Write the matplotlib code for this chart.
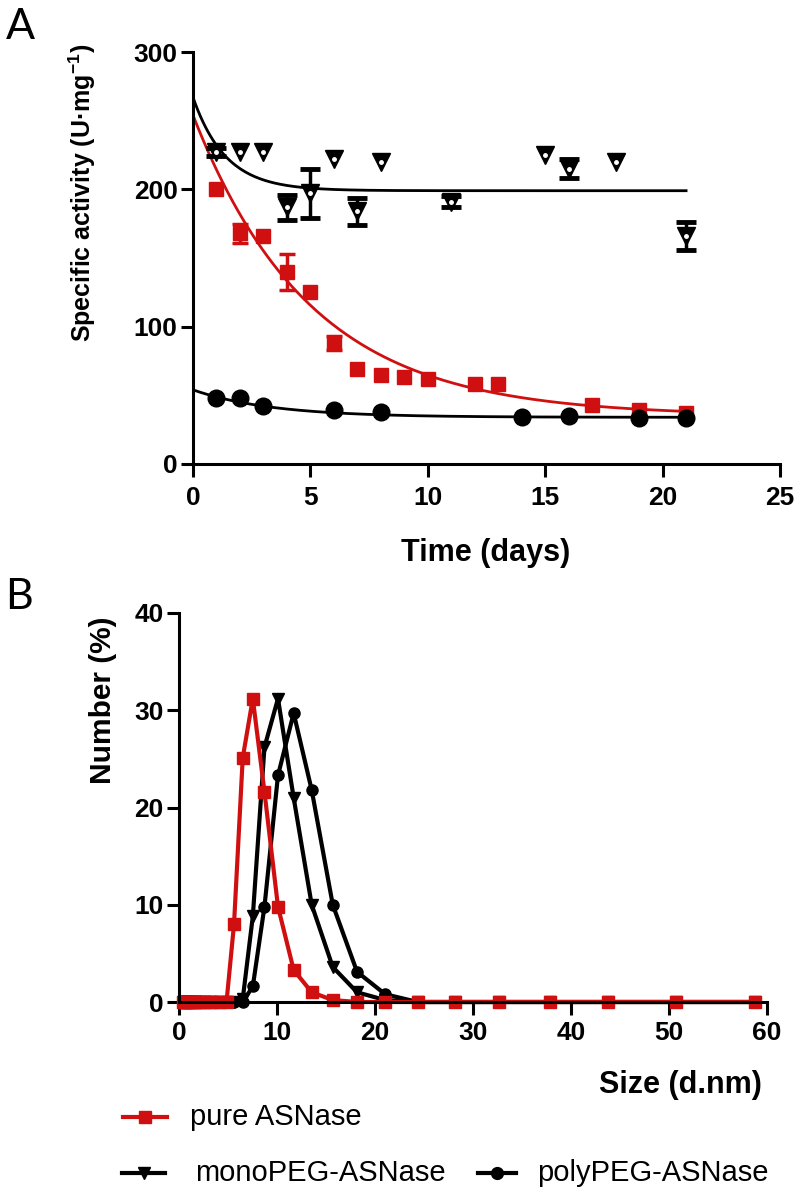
import numpy as np
import matplotlib
matplotlib.use("Agg")
import matplotlib.pyplot as plt
from matplotlib.lines import Line2D

plt.rcParams['font.family'] = ['Liberation Sans', 'DejaVu Sans']
plt.rcParams['mathtext.fontset'] = 'custom'
plt.rcParams['mathtext.rm'] = 'Liberation Sans'
plt.rcParams['mathtext.bf'] = 'Liberation Sans:bold'

RED = '#d01010'

# ---- panel A: specific activity over time ----
days_mono = [1, 2, 3, 4, 5, 6, 7, 8, 11, 15, 16, 18, 21]
act_mono = [227, 227, 227, 187, 197, 222, 184, 220, 191, 225, 215, 220, 166]
err_mono = [3, 0, 0, 9, 18, 0, 10, 0, 4, 0, 7, 0, 10]

days_pure = [1, 2, 3, 4, 5, 6, 7, 8, 9, 10, 12, 13, 17, 19, 21]
act_pure = [200, 168, 166, 140, 125, 88, 69, 65, 63, 62, 58, 58, 43, 39, 37]
err_pure = [0, 7, 0, 13, 0, 5, 0, 0, 0, 0, 0, 0, 0, 0, 0]

days_poly = [1, 2, 3, 6, 8, 14, 16, 19, 21]
act_poly = [48, 48, 42, 39, 38, 34, 35, 33.5, 33.5]

# one-phase decay fits: (Y0, plateau, k)
fit_mono = (267, 199, 0.72)
fit_pure = (254, 35, 0.20)
fit_poly = (54, 34, 0.30)

# ---- panel B: DLS size distribution ----
size_bins = [0.4, 0.4632, 0.5365, 0.6213, 0.7195, 0.8332, 0.9649, 1.117, 1.294,
             1.499, 1.736, 2.01, 2.328, 2.696, 3.122, 3.615, 4.187, 4.849, 5.615,
             6.503, 7.531, 8.721, 10.1, 11.7, 13.54, 15.69, 18.17, 21.04, 24.36,
             28.21, 32.67, 37.84, 43.82, 50.75, 58.77]
num_pure = [0] * 18 + [8.0, 25.1, 31.2, 21.6, 9.8, 3.3, 1.0, 0.2] + [0] * 9
num_mono = [0] * 19 + [0.3, 8.8, 26.2, 31.2, 21.0, 10.0, 3.6, 1.0, 0.2] + [0] * 7
num_poly = [0] * 20 + [1.6, 9.8, 23.3, 29.7, 21.8, 10.0, 3.1, 0.8] + [0] * 7

legend_labels = ['pure ASNase', 'monoPEG-ASNase', 'polyPEG-ASNase']


def decay(t, p):
    y0, plateau, k = p
    return plateau + (y0 - plateau) * np.exp(-k * t)


def with_err(x, y, e):
    # keep only points that carry a visible error bar
    keep = [i for i in range(len(e)) if e[i] > 0]
    return [x[i] for i in keep], [y[i] for i in keep], [e[i] for i in keep]


def style_axis(ax):
    for s in ['top', 'right']:
        ax.spines[s].set_visible(False)
    for s in ['left', 'bottom']:
        ax.spines[s].set_linewidth(2.2)
    ax.tick_params(direction='out', length=9, width=2.2, labelsize=19)
    ax.tick_params(axis='y', pad=2)
    for lab in ax.get_xticklabels() + ax.get_yticklabels():
        lab.set_fontweight('bold')


W, H = 800, 1195
fig = plt.figure(figsize=(W / 100, H / 100), dpi=100)

axA = fig.add_axes([193 / W, 1 - 464 / H, 587 / W, 412 / H])
t = np.linspace(0, 21, 200)
axA.plot(t, decay(t, fit_pure), color=RED, lw=2)
axA.errorbar(*with_err(days_pure, act_pure, err_pure), fmt='none', ecolor=RED,
             elinewidth=2.5, capsize=6, capthick=2.5)
axA.plot(days_pure, act_pure, 's', color=RED, ms=9.5, mec=RED)
axA.plot(t, decay(t, fit_mono), color='black', lw=2)
axA.plot(t, decay(t, fit_poly), color='black', lw=2)
axA.errorbar(*with_err(days_mono, act_mono, err_mono), fmt='none', ecolor='black',
             elinewidth=2.5, capsize=7, capthick=3.5)
axA.plot(days_mono, act_mono, 'v', color='black', ms=12.5)
axA.plot(days_mono, act_mono, 'o', color='white', ms=2.5)
axA.plot(days_poly, act_poly, 'o', color='black', ms=12, clip_on=False)
axA.set_xlim(0, 25)
axA.set_ylim(0, 300)
axA.set_xticks([0, 5, 10, 15, 20, 25])
axA.set_yticks([0, 100, 200, 300])
style_axis(axA)
axA.tick_params(axis='x', pad=7)
fig.text(82 / W, 1 - 193 / H, 'Specific activity (U·mg$^{\\mathbf{-1}}$)',
         rotation=90, ha='center', va='center', fontsize=18, fontweight='bold')
fig.text(486 / W, 1 - 553 / H, 'Time (days)', ha='center', va='center',
         fontsize=22, fontweight='bold')

axB = fig.add_axes([179 / W, 1 - 1002 / H, 588 / W, 389 / H])
axB.plot(size_bins, num_mono, '-v', color='black', lw=3, ms=8.5, clip_on=False)
axB.plot(size_bins, num_poly, '-o', color='black', lw=3, ms=8, clip_on=False)
axB.plot(size_bins, num_pure, '-s', color=RED, lw=3, ms=8, clip_on=False)
axB.set_xlim(0, 60)
axB.set_ylim(0, 40)
axB.set_xticks(range(0, 61, 10))
axB.set_yticks(range(0, 41, 10))
style_axis(axB)
axB.tick_params(axis='x', pad=5)
fig.text(103 / W, 1 - 700 / H, 'Number (%)', rotation=90, ha='center',
         va='center', fontsize=21.5, fontweight='bold')
fig.text(762 / W, 1 - 1085 / H, 'Size (d.nm)', ha='right', va='center',
         fontsize=22, fontweight='bold')

# legend, drawn by hand to keep the two-row layout
legend_keys = [(RED, 's', 123, 167, 190, 1117),
               ('black', 'v', 122, 165, 195, 1173),
               ('black', 'o', 478, 516, 537, 1173)]
for (c, m, x0, x1, xt, yp), lab in zip(legend_keys, legend_labels):
    y = 1 - yp / H
    fig.add_artist(Line2D([x0 / W, x1 / W], [y, y], color=c, lw=3,
                          transform=fig.transFigure))
    fig.add_artist(Line2D([(x0 + x1) / 2 / W], [y], marker=m, color=c, ms=8.5,
                          transform=fig.transFigure))
    fig.text(xt / W, y, lab, ha='left', va='center', fontsize=21)

fig.text(20 / W, 1 - 27 / H, 'A', ha='center', va='center', fontsize=31,
         family=['Lato', 'DejaVu Sans'], fontweight='normal')
fig.text(19 / W, 1 - 597 / H, 'B', ha='center', va='center', fontsize=31,
         family=['Lato', 'DejaVu Sans'], fontweight='normal')

fig.savefig('out.png', dpi=100)
